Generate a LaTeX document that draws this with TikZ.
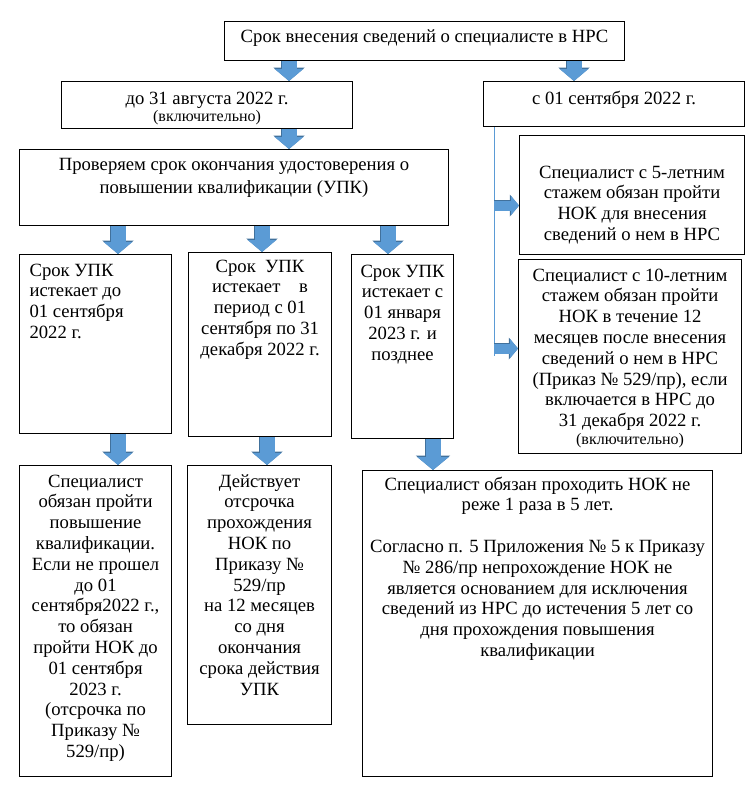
\documentclass[tikz,border=0pt]{standalone}
\usepackage{fontspec}
\setmainfont{Liberation Serif}
\usetikzlibrary{arrows.meta,positioning}
\definecolor{arrowblue}{HTML}{5B9BD5}
\definecolor{arrowedge}{HTML}{41719C}
\definecolor{lineblue}{HTML}{5B9BD5}
\newcommand{\tnr}{\fontsize{18.67pt}{20.8pt}\selectfont}
\newcommand{\tnrsmall}{\fontsize{16pt}{17pt}\selectfont}
% width, height, first baseline, alignment, text
\newcommand{\celltext}[5]{\parbox[t][#2][t]{#1}{#4\rule{0pt}{#3}#5}}

\tikzset{
  box/.style={draw, line width=1.1pt, anchor=north west, inner xsep=6pt, inner ysep=0pt, font=\tnr},
  blockarrow/.style={line width=15pt, draw=arrowblue, -{Triangle[width=28pt,length=12pt]},
    preaction={draw=arrowedge, line width=16.6pt, -{Triangle[width=30.6pt,length=13.4pt]}}},
  bigarrow/.style={line width=15pt, draw=arrowblue, -{Triangle[width=31pt,length=13pt]},
    preaction={draw=arrowedge, line width=16.6pt, -{Triangle[width=33.6pt,length=14.4pt]}}},
  sidearrow/.style={line width=10pt, draw=arrowblue, -{Triangle[width=19pt,length=8pt]},
    preaction={draw=arrowedge, line width=11.4pt, -{Triangle[width=21.4pt,length=9.2pt]}}},
  thinline/.style={draw=lineblue, line width=0.9pt},
}

\begin{document}
\begin{tikzpicture}[x=1pt, y=-1pt]
	\useasboundingbox (0,0) rectangle (755,785);
	%
	\node[box] (top) at (224,21) {\celltext{388pt}{39pt}{20.5pt}{\centering}{Срок внесения сведений о специалисте в НРС}};
	\node[box] (d31) at (61,81) {\celltext{279pt}{47pt}{22.5pt}{\centering}{до 31 августа 2022 г.\\[-3pt]{\tnrsmall (включительно)}}};
	\node[box] (s01) at (483,81) {\celltext{249pt}{45pt}{22.5pt}{\centering}{с 01 сентября 2022 г.}};
	\node[box] (chk) at (19,149) {\celltext{417pt}{76pt}{20.5pt}{\centering}{Проверяем срок окончания удостоверения о\\[3pt] повышении квалификации (УПК)}};
	%
	\node[box, inner xsep=10pt] (upk1) at (19,254) {\celltext{132pt}{179pt}{21.5pt}{\raggedright}{Срок УПК\\ истекает до\\ 01 сентября\\ 2022 г.}};
	\node[box] (upk2) at (188,252) {\celltext{131pt}{184pt}{19.5pt}{\centering}{Срок\ \ УПК\\ истекает\ \ \ \ в\\ период с 01\\ сентября по 31\\ декабря 2022 г.}};
	\node[box, inner xsep=3pt] (upk3) at (351,254) {\celltext{96pt}{184pt}{22.5pt}{\centering}{Срок УПК\\ истекает с\\ 01 января\\ 2023 г. и\\ позднее}};
	%
	\node[box] (r1) at (519,135) {\celltext{213pt}{119pt}{42.5pt}{\centering}{Специалист с 5-летним\\ стажем обязан пройти\\ НОК для внесения\\ сведений о нем в НРС}};
	\node[box] (r2) at (518,259) {\celltext{211pt}{194pt}{21.5pt}{\centering}{Специалист с 10-летним\\ стажем обязан пройти\\ НОК в течение 12\\ месяцев после внесения\\ сведений о нем в НРС\\ (Приказ № 529/пр), если\\ включается в НРС до\\ 31 декабря 2022 г.\\[-3pt]{\tnrsmall (включительно)}}};
	%
	\node[box] (b1) at (19,465) {\celltext{140pt}{311pt}{21.5pt}{\centering}{Специалист\\ обязан пройти\\ повышение\\ квалификации.\\ Если не прошел\\ до 01\\ сентября2022 г.,\\ то обязан\\ пройти НОК до\\ 01 сентября\\ 2023 г.\\ (отсрочка по\\ Приказу №\\ 529/пр)}};
	\node[box] (b2) at (187,465) {\celltext{132pt}{259pt}{21.5pt}{\centering}{Действует\\ отсрочка\\ прохождения\\ НОК по\\ Приказу №\\ 529/пр\\ на 12 месяцев\\ со дня\\ окончания\\ срока действия\\ УПК}};
	\node[box] (b3) at (362,470) {\celltext{338pt}{306pt}{19.5pt}{\centering}{Специалист обязан проходить НОК не\\ реже 1 раза в 5 лет.\\[20.8pt] Согласно п. 5 Приложения № 5 к Приказу\\ № 286/пр непрохождение НОК не\\ является основанием для исключения\\ сведений из НРС до истечения 5 лет со\\ дня прохождения повышения\\ квалификации}};
	%
	\coordinate (t1) at ([xshift=65pt]top.south west);
	\coordinate (t2) at ([xshift=350pt]top.south west);
	\coordinate (c1) at ([xshift=99pt]chk.south west);
	\coordinate (c2) at ([xshift=243pt]chk.south west);
	\coordinate (c3) at ([xshift=369pt]chk.south west);
	\coordinate (u1) at ([xshift=99pt]upk1.south west);
	\coordinate (u2) at ([xshift=79pt]upk2.south west);
	\coordinate (u3) at ([xshift=82pt]upk3.south west);
	\coordinate (spine) at ([xshift=11pt]s01.south west);
	\coordinate (in1) at ([yshift=-10.5pt]r1.west);
	\coordinate (in2) at ([yshift=8pt]r2.west);
	%
	\draw[blockarrow] (t1) -- (t1 |- d31.north);
	\draw[blockarrow] (t2) -- (t2 |- s01.north);
	\draw[blockarrow] (d31.south -| t1) -- (t1 |- chk.north);
	\draw[blockarrow] (c1) -- (c1 |- upk1.north);
	\draw[blockarrow] (c2) -- (c2 |- upk2.north);
	\draw[blockarrow] (c3) -- (c3 |- upk3.north);
	\draw[blockarrow] (u1) -- (u1 |- b1.north);
	\draw[blockarrow] (u2) -- (u2 |- b2.north);
	\draw[bigarrow] (u3) -- (u3 |- b3.north);
	%
	\draw[thinline] (spine) -- ++(0,229);
	\draw[sidearrow] (spine |- in1) -- (in1);
	\draw[sidearrow] (spine |- in2) -- (in2);
\end{tikzpicture}
\end{document}
